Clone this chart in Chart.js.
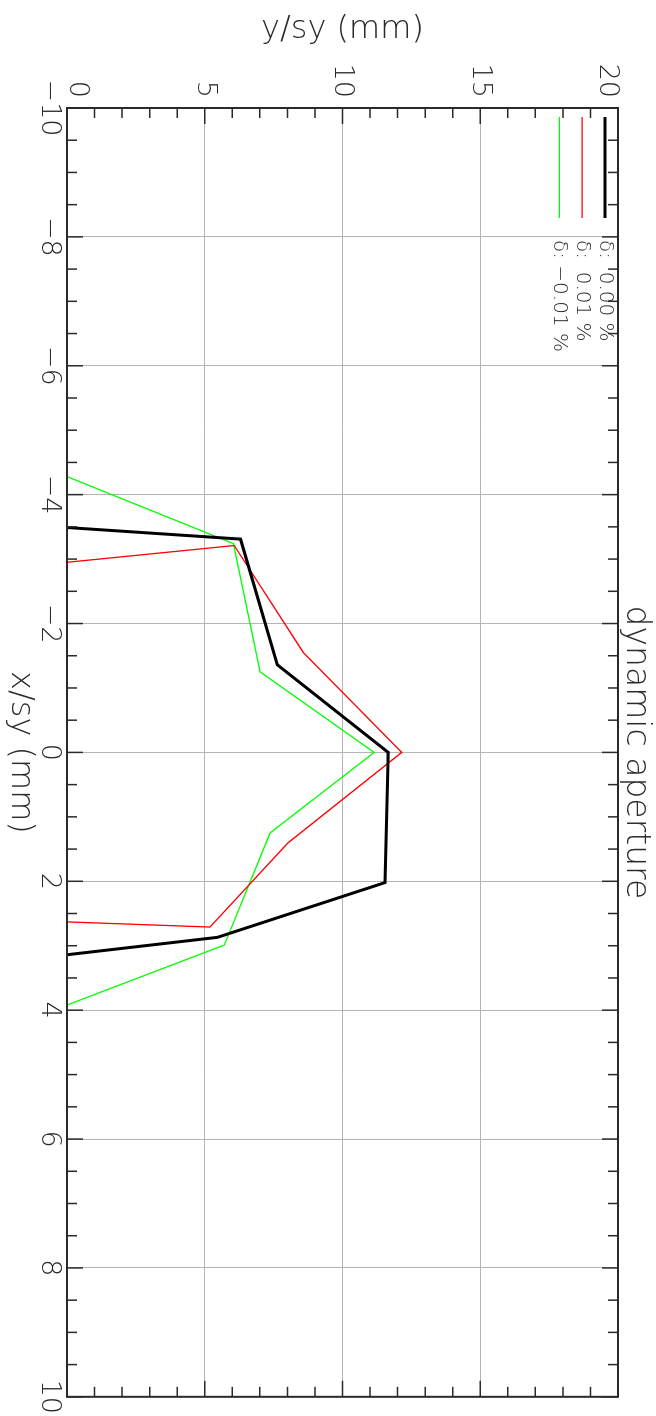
<!DOCTYPE html>
<html lang="en">
  <head>
    <meta charset="UTF-8" />
    <title>dynamic aperture</title>
    <script src="https://cdn.jsdelivr.net/npm/chart.js@4"></script>
    <style>
      body {
        margin: 0;
        background: #fff;
        overflow: hidden;
      }
      /* the plot is drawn landscape and turned a quarter clockwise */
      #wrap {
        position: absolute;
        left: 0;
        top: 0;
        width: 1416px;
        height: 656px;
        transform-origin: 0 0;
        transform: translate(656px, 0) rotate(90deg);
      }
    </style>
  </head>
  <body>
    <div id="wrap"><canvas id="da" width="1416" height="656"></canvas></div>
    <script>
      // boundary points, x/sy and y/sy in mm
      const xZero = [-3.49, -3.31, -1.36, 0.0, 2.02, 2.87, 3.14];
      const yZero = [0, 6.3, 7.63, 11.66, 11.54, 5.46, 0];
      const xPlus = [-2.95, -3.21, -1.55, 0.0, 1.4, 2.71, 2.63];
      const yPlus = [0, 6.07, 8.58, 12.15, 8.03, 5.19, 0];
      const xMinus = [-4.28, -3.24, -1.25, 0.0, 1.25, 2.99, 3.92];
      const yMinus = [0, 6.04, 7.01, 11.15, 7.37, 5.71, 0];

      const seriesLabels = ["δ:  0.00 %", "δ:  0.01 %", "δ: −0.01 %"];
      const xTicks = [-10, -8, -6, -4, -2, 0, 2, 4, 6, 8, 10];
      const yTicks = [0, 5, 10, 15, 20];
      const xMinorStep = 0.5;
      const yMinorStep = 1;

      const FONT = '"DejaVu Sans", "Liberation Sans", sans-serif';
      const THIN = 200;
      const INK = "#2a2a2a";

      const pts = (xs, ys) => xs.map((x, i) => ({ x: x, y: ys[i] }));
      const minus = (v) => String(v).replace("-", "\u2212");

      // end labels on the y axis sit just inside the box, like the original
      const yLabel = (v) => {
        const s = minus(v);
        if (v === yTicks[0]) return [s, ""];
        if (v === yTicks[yTicks.length - 1]) return ["", s];
        return s;
      };

      // box + inward ticks on all four sides
      const framePlugin = {
        id: "frame",
        afterDraw(chart) {
          const { ctx, chartArea: a } = chart;
          const sx = chart.scales.x;
          const sy = chart.scales.y;
          ctx.save();
          ctx.strokeStyle = INK;
          ctx.lineWidth = 2;
          ctx.strokeRect(a.left, a.top, a.right - a.left, a.bottom - a.top);
          ctx.lineWidth = 1.5;
          ctx.beginPath();
          for (let v = sx.min; v <= sx.max + 1e-9; v += xMinorStep) {
            const p = sx.getPixelForValue(v);
            const len = Math.abs(v % 2) < 1e-9 ? 16 : 10;
            ctx.moveTo(p, a.bottom);
            ctx.lineTo(p, a.bottom - len);
            ctx.moveTo(p, a.top);
            ctx.lineTo(p, a.top + len);
          }
          for (let v = sy.min; v <= sy.max + 1e-9; v += yMinorStep) {
            const p = sy.getPixelForValue(v);
            const len = Math.abs(v % 5) < 1e-9 ? 16 : 10;
            ctx.moveTo(a.left, p);
            ctx.lineTo(a.left + len, p);
            ctx.moveTo(a.right, p);
            ctx.lineTo(a.right - len, p);
          }
          ctx.stroke();
          ctx.restore();
        },
      };

      // legend sits inside the top left corner of the plot
      const cornerLegend = {
        id: "cornerLegend",
        afterDraw(chart) {
          const { ctx, chartArea: a } = chart;
          ctx.save();
          ctx.font = THIN + " 20px " + FONT;
          ctx.textBaseline = "middle";
          chart.data.datasets.forEach((ds, i) => {
            const v = a.top + 13 + i * 22.8;
            ctx.strokeStyle = ds.borderColor;
            ctx.lineWidth = ds.borderWidth;
            ctx.beginPath();
            ctx.moveTo(a.left + 9, v);
            ctx.lineTo(a.left + 110, v);
            ctx.stroke();
            ctx.fillStyle = INK;
            ctx.fillText(ds.label, a.left + 132, v);
          });
          ctx.restore();
        },
      };

      new Chart(document.getElementById("da"), {
        type: "scatter",
        data: {
          datasets: [
            {
              label: seriesLabels[0],
              data: pts(xZero, yZero),
              borderColor: "#000000",
              borderWidth: 3,
            },
            {
              label: seriesLabels[1],
              data: pts(xPlus, yPlus),
              borderColor: "#ff0000",
              borderWidth: 1.3,
            },
            {
              label: seriesLabels[2],
              data: pts(xMinus, yMinus),
              borderColor: "#00ff00",
              borderWidth: 1.3,
            },
          ],
        },
        options: {
          responsive: false,
          animation: false,
          showLine: true,
          elements: { point: { radius: 0 }, line: { tension: 0 } },
          layout: { padding: { left: 0, right: 19, top: 3, bottom: 0 } },
          plugins: {
            legend: { display: false },
            tooltip: { enabled: false },
            title: {
              display: true,
              fullSize: false,
              text: "dynamic aperture",
              color: INK,
              padding: 0,
              font: { family: FONT, size: 33, weight: THIN, lineHeight: "35px" },
            },
          },
          scales: {
            x: {
              type: "linear",
              min: -10,
              max: 10,
              afterBuildTicks: (s) => {
                s.ticks = xTicks.map((v) => ({ value: v }));
              },
              afterFit: (s) => {
                s.height = 67;
              },
              grid: { color: "#b4b4b4", lineWidth: 1, drawTicks: false },
              border: { display: false },
              ticks: {
                padding: 2,
                color: INK,
                maxRotation: 0,
                font: { family: FONT, size: 27, weight: THIN },
                callback: (v) => minus(v),
              },
              title: {
                display: true,
                text: "x/sy (mm)",
                color: INK,
                padding: { top: 0, bottom: 1 },
                font: { family: FONT, size: 32, weight: THIN },
              },
            },
            y: {
              type: "linear",
              min: 0,
              max: 20,
              afterBuildTicks: (s) => {
                s.ticks = yTicks.map((v) => ({ value: v }));
              },
              afterFit: (s) => {
                s.width = 108;
              },
              grid: { color: "#b4b4b4", lineWidth: 1, drawTicks: false },
              border: { display: false },
              ticks: {
                padding: 10,
                color: INK,
                font: { family: FONT, size: 27, weight: THIN, lineHeight: "21px" },
                callback: yLabel,
              },
              title: {
                display: true,
                text: "y/sy (mm)",
                color: INK,
                padding: { top: 10, bottom: 0 },
                font: { family: FONT, size: 32, weight: THIN },
              },
            },
          },
        },
        plugins: [framePlugin, cornerLegend],
      });
    </script>
  </body>
</html>
